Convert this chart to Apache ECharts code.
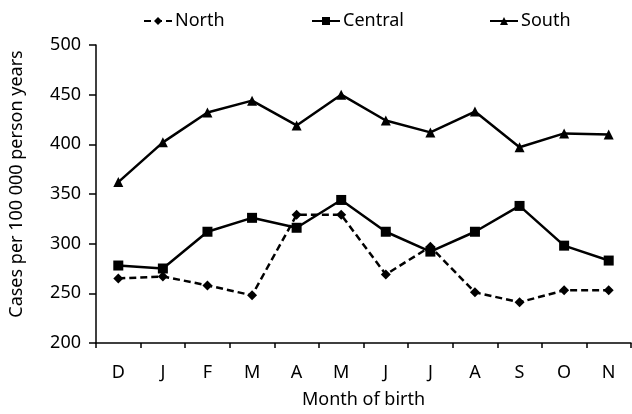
<!DOCTYPE html>
<html>
<head>
<meta charset="utf-8">
<script src="https://cdn.jsdelivr.net/npm/echarts@6/dist/echarts.min.js"></script>
<style>html,body{margin:0;padding:0;background:#fff}#c{width:632px;height:414px}</style>
</head>
<body>
<div id="c"></div>
<script>
const months = ['D','J','F','M','A','M','J','J','A','S','O','N'];
const north = [265, 267, 258, 248, 329, 329, 269, 297, 251, 241, 253, 253];
const central = [278, 275, 312, 326, 316, 344, 312, 292, 312, 338, 298, 283];
const south = [362, 402, 432, 444, 419, 450, 424, 412, 433, 397, 411, 410];
const yTicks = [200, 250, 300, 350, 400, 450, 500];

const FONT = 'Noto Sans';
const chart = echarts.init(document.getElementById('c'));
const mk = (name, data, symbol, size, dashed) => ({
  name, type: 'line', data, symbol, symbolSize: size,
  lineStyle: { color: '#000', width: 2.5, type: dashed ? [7, 4] : 'solid' },
  itemStyle: { color: '#000' },
  animation: false
});
const leg = (name, left) => ({
  top: 7, left, itemWidth: 28, itemHeight: 10, itemGap: 0,
  textStyle: { fontFamily: FONT, fontSize: 18, color: '#000', padding: [0, 0, 0, -2] },
  data: [name]
});
chart.setOption({
  backgroundColor: '#fff',
  textStyle: { fontFamily: FONT, color: '#000' },
  legend: [leg('North', 138), leg('Central', 306), leg('South', 484)],
  grid: { left: 95, right: 1, top: 45, bottom: 68, containLabel: false },
  xAxis: {
    type: 'category', data: months, boundaryGap: true,
    name: 'Month of birth', nameLocation: 'middle', nameGap: 48,
    nameTextStyle: { fontFamily: FONT, fontSize: 18, color: '#000' },
    axisLine: { lineStyle: { color: '#000', width: 1.5 } },
    axisTick: { show: true, length: 5, lineStyle: { color: '#000', width: 1.5 } },
    axisLabel: { fontFamily: FONT, fontSize: 18, color: '#000', margin: 21 },
    splitLine: { show: false }
  },
  yAxis: {
    type: 'value', min: yTicks[0], max: yTicks[yTicks.length - 1], interval: 50,
    name: 'Cases per 100 000 person years', nameLocation: 'middle', nameGap: 70,
    nameTextStyle: { fontFamily: FONT, fontSize: 18, color: '#000', padding: [0, 0, 0, 20] },
    axisLine: { show: true, lineStyle: { color: '#000', width: 1.5 } },
    axisTick: { show: true, length: 7, lineStyle: { color: '#000', width: 1.5 } },
    axisLabel: { fontFamily: FONT, fontSize: 18, color: '#000', margin: 15 },
    splitLine: { show: false }
  },
  series: [
    mk('North', north, 'diamond', [10, 10], true),
    mk('Central', central, 'rect', 10, false),
    mk('South', south, 'triangle', 10, false)
  ]
});
</script>
</body>
</html>
